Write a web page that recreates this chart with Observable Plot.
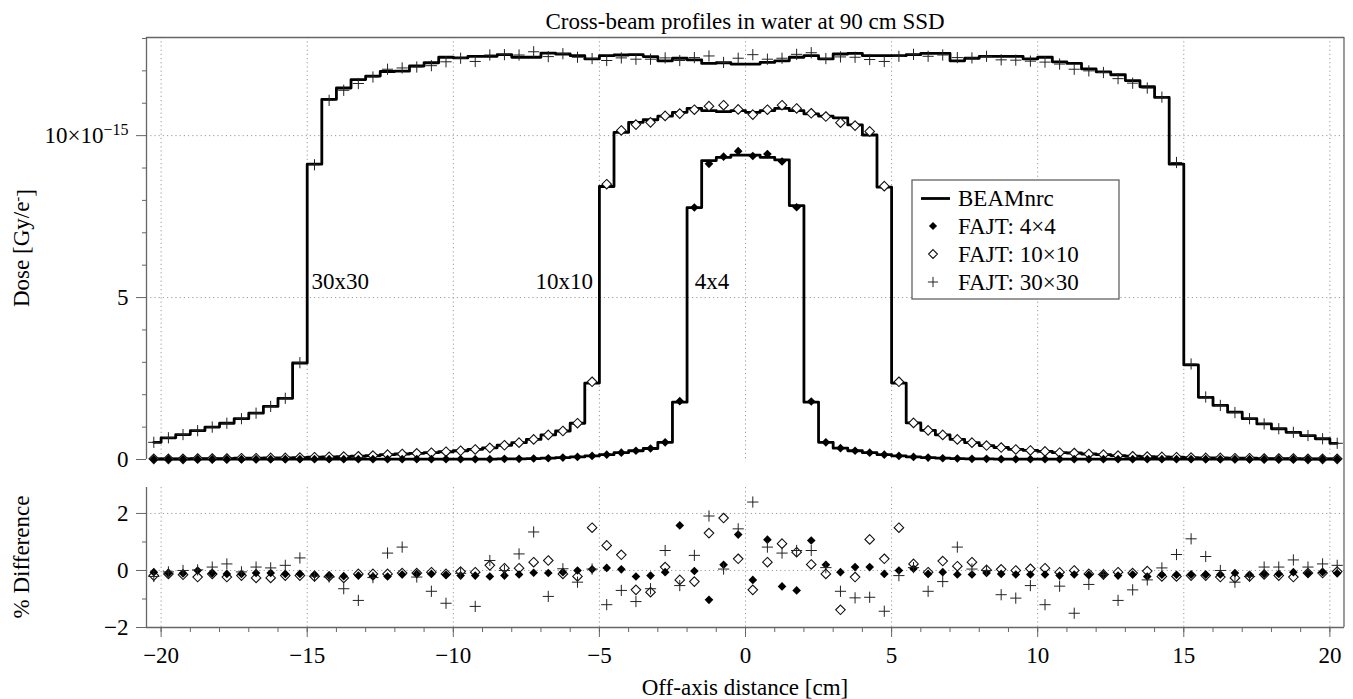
<!DOCTYPE html>
<html><head><meta charset="utf-8">
<script src="https://cdn.jsdelivr.net/npm/d3@7"></script>
<script src="https://cdn.jsdelivr.net/npm/@observablehq/plot@0.6"></script>
<style>
body{margin:0;background:#fff;}
#wrap{position:relative;width:1353px;height:699px;overflow:hidden;}
#top,#bot{position:absolute;left:0;}
#top{top:0;}
#bot{top:470px;}
#over{position:absolute;left:0;top:0;}
</style></head><body>
<div id="wrap"><div id="top"></div><div id="bot"></div><svg id="over" width="1353" height="699"></svg></div>
<script>
// ---------- data ----------
const binCenters = [-20.25,-19.75,-19.25,-18.75,-18.25,-17.75,-17.25,-16.75,-16.25,-15.75,-15.25,-14.75,-14.25,-13.75,-13.25,-12.75,-12.25,-11.75,-11.25,-10.75,-10.25,
  -9.75,-9.25,-8.75,-8.25,-7.75,-7.25,-6.75,-6.25,-5.75,-5.25,-4.75,-4.25,-3.75,-3.25,-2.75,-2.25,-1.75,-1.25,-0.75,-0.25,
  0.25,0.75,1.25,1.75,2.25,2.75,3.25,3.75,4.25,4.75,5.25,5.75,6.25,6.75,7.25,7.75,8.25,8.75,9.25,9.75,
  10.25,10.75,11.25,11.75,12.25,12.75,13.25,13.75,14.25,14.75,15.25,15.75,16.25,16.75,17.25,17.75,18.25,18.75,19.25,19.75,20.25];

const beam4 = [0.01,0.01,0.01,0.01,0.01,0.01,0.01,0.01,0.01,0.01,0.01,0.01,0.01,0.01,0.01,0.01,0.01,0.01,0.01,0.01,0.01,0.01,0.01,0.01,
  0.02,0.02,0.03,0.04,0.06,0.08,0.11,0.15,0.21,0.27,0.34,0.53,1.77,7.78,9.23,9.33,9.40,9.40,9.33,9.25,7.84,1.77,0.53,0.35,0.27,0.21,0.15,0.11,0.08,0.06,0.04,0.03,0.02,0.02,
  0.01,0.01,0.01,0.01,0.01,0.01,0.01,0.01,0.01,0.01,0.01,0.01,0.01,0.01,0.01,0.01,0.01,0.01,0.01,0.01,0.01,0.01,0.01,0.01];
const beam10 = [0.02,0.02,0.02,0.03,0.03,0.03,0.04,0.04,0.05,0.05,0.06,0.07,0.08,0.09,0.10,0.12,0.15,0.17,0.19,0.21,0.24,
  0.27,0.31,0.36,0.44,0.52,0.62,0.76,0.88,1.12,2.36,
  8.43,10.10,10.41,10.49,10.60,10.72,10.84,10.77,10.74,10.77,10.72,10.77,10.84,10.77,10.67,10.60,10.55,10.33,10.02,8.41,2.36,
  1.13,0.90,0.76,0.62,0.52,0.43,0.37,0.31,0.28,0.25,
  0.21,0.20,0.17,0.15,0.12,0.10,0.09,0.08,0.07,0.06,0.05,0.05,0.04,0.04,0.03,0.03,0.03,0.02,0.02,0.02];
const beam30 = [0.53,0.67,0.77,0.89,1.00,1.12,1.26,1.43,1.64,1.89,2.98,9.12,11.12,11.47,11.73,11.84,11.98,11.99,12.15,12.25,12.42,
  12.40,12.45,12.45,12.50,12.42,12.42,12.55,12.52,12.47,12.37,12.47,12.49,12.50,12.44,12.31,12.39,12.34,12.23,12.25,12.21,
  12.21,12.26,12.31,12.42,12.47,12.37,12.52,12.54,12.47,12.47,12.47,12.50,12.54,12.54,12.31,12.39,12.45,12.45,12.45,12.37,
  12.42,12.28,12.23,12.06,11.97,11.88,11.70,11.51,11.18,9.12,2.92,1.92,1.67,1.46,1.26,1.10,0.95,0.84,0.74,0.64,0.50];

const fajt4 = [0.01,0.01,0.01,0.01,0.01,0.01,0.01,0.01,0.01,0.01,0.01,0.01,0.01,0.01,0.01,0.01,0.01,0.01,0.01,0.01,0.01,0.01,0.01,0.01,
  0.02,0.02,0.03,0.04,0.06,0.08,0.11,0.15,0.21,0.27,0.34,0.53,1.80,7.78,9.13,9.35,9.52,9.37,9.43,9.20,7.79,1.79,0.53,0.35,0.27,0.21,0.15,0.11,0.08,0.06,0.04,0.03,0.02,0.02,
  0.01,0.01,0.01,0.01,0.01,0.01,0.01,0.01,0.01,0.01,0.01,0.01,0.01,0.01,0.01,0.01,0.01,0.01,0.01,0.01,0.01,0.01,0.01,0.01];
const fajt10 = [0.02,0.02,0.02,0.03,0.03,0.03,0.04,0.04,0.05,0.05,0.06,0.07,0.08,0.09,0.10,0.12,0.15,0.17,0.19,0.21,0.24,
  0.27,0.31,0.36,0.44,0.52,0.62,0.76,0.88,1.12,2.40,
  8.50,10.16,10.34,10.41,10.61,10.68,10.80,10.91,10.94,10.81,10.65,10.80,10.94,10.84,10.69,10.59,10.40,10.31,10.13,8.44,2.40,
  1.13,0.90,0.76,0.62,0.52,0.43,0.37,0.31,0.28,0.25,
  0.21,0.20,0.17,0.15,0.12,0.10,0.09,0.08,0.07,0.06,0.05,0.05,0.04,0.04,0.03,0.03,0.03,0.02,0.02,0.02];
const fajt30 = [0.53,0.67,0.77,0.89,1.00,1.12,1.26,1.43,1.64,1.89,2.99,9.10,11.09,11.40,11.61,11.81,12.05,12.09,12.12,12.16,12.28,
  12.39,12.29,12.49,12.50,12.49,12.59,12.44,12.53,12.42,12.38,
  12.32,12.40,12.36,12.36,12.40,12.32,12.41,12.46,12.26,12.39,
  12.50,12.36,12.39,12.51,12.56,12.38,12.43,12.42,12.35,12.29,12.45,
  12.51,12.45,12.49,12.41,12.40,12.45,12.34,12.33,12.30,12.27,
  12.21,12.05,12.00,11.95,11.76,11.62,11.47,11.19,9.17,2.95,1.93,1.67,1.45,1.26,1.10,0.95,0.84,0.74,0.64,0.50];

const diff4 = [-0.06,-0.10,-0.10,0.00,-0.10,-0.12,-0.12,-0.09,-0.09,-0.12,-0.12,-0.14,-0.18,-0.20,-0.18,-0.21,-0.21,-0.14,-0.12,-0.12,-0.15,
  -0.18,-0.18,-0.21,-0.18,-0.14,-0.08,-0.09,-0.06,0.00,0.04,
  0.09,0.04,-0.21,-0.18,-0.06,1.58,-0.02,-1.03,0.20,1.26,-0.33,1.08,-0.56,-0.70,1.05,0.20,-0.06,0.12,0.12,-0.12,0.00,
  0.06,-0.12,-0.06,-0.14,-0.14,-0.09,-0.12,-0.14,-0.14,-0.14,
  -0.18,-0.14,-0.15,-0.14,-0.18,-0.14,-0.21,-0.15,-0.15,-0.15,-0.15,-0.14,-0.09,-0.15,-0.12,-0.12,-0.06,-0.10,-0.06,-0.10];
const diff10 = [-0.18,-0.12,-0.15,-0.23,-0.12,-0.23,-0.18,-0.26,-0.26,-0.18,-0.18,-0.21,-0.21,-0.26,-0.12,-0.12,-0.12,-0.09,-0.09,-0.06,-0.12,
  -0.04,-0.06,0.18,0.08,0.08,0.29,0.35,-0.12,-0.21,1.50,
  0.88,0.55,-0.68,-0.76,0.12,-0.33,-0.39,1.31,1.84,0.41,-0.68,0.29,0.94,0.64,0.21,-0.12,-1.38,-0.23,1.09,0.41,1.50,
  0.23,-0.06,0.33,0.15,0.29,0.02,0.04,0.00,0.06,0.08,
  -0.06,0.00,-0.12,-0.14,-0.06,-0.09,-0.02,-0.21,-0.21,-0.18,-0.18,-0.23,-0.26,-0.21,-0.14,-0.18,-0.23,-0.09,-0.09,-0.04];
const diff30 = [-0.21,-0.05,0.00,0.02,0.12,0.23,-0.05,0.12,0.09,0.18,0.44,-0.20,-0.23,-0.64,-1.05,-0.25,0.61,0.82,-0.23,-0.73,-1.15,
  -0.10,-1.26,0.35,0.00,0.58,1.35,-0.91,0.06,-0.41,0.05,
  -1.20,-0.70,-1.09,-0.64,0.70,-0.53,0.53,1.91,0.05,1.46,2.40,0.82,0.61,0.70,0.70,0.10,-0.73,-0.96,-0.94,-1.43,-0.18,
  0.10,-0.73,-0.39,0.82,0.05,0.00,-0.85,-0.97,-0.53,-1.20,
  -0.55,-1.50,-0.49,-0.14,-1.05,-0.68,-0.33,0.09,0.56,1.11,0.49,0.00,-0.41,-0.21,0.12,0.12,0.37,0.12,0.23,0.18];

const xTicksMajor = [-20,-15,-10,-5,0,5,10,15,20];
const xTicksMinor = [-20,-19,-18,-17,-16,-15,-14,-13,-12,-11,-10,-9,-8,-7,-6,-5,-4,-3,-2,-1,0,1,2,3,4,5,6,7,8,9,10,11,12,13,14,15,16,17,18,19,20];
const doseTicks = [0,5,10];
const doseMinor = [1,2,3,4,6,7,8,9,11,12,13];
const diffTicks = [-2,0,2];
const diffMinor = [-1,1];
const fieldLabels = ["30x30","10x10","4x4"];
const fieldLabelX = [-13.87,-6.2,-1.15];
const fieldLabelY = [5.5,5.5,5.5];
const legendLabels = ["BEAMnrc","FAJT: 4×4","FAJT: 10×10","FAJT: 30×30"];
const titleText = "Cross-beam profiles in water at 90 cm SSD";
const xLabel = "Off-axis distance [cm]";

// ---------- tables ----------
const rows = binCenters.map((x,i)=>({x, f4:fajt4[i], f10:fajt10[i], f30:fajt30[i], d4:diff4[i], d10:diff10[i], d30:diff30[i]}));
const lineRows = [];
[["4x4",beam4],["10x10",beam10],["30x30",beam30]].forEach(([k,arr]) => binCenters.forEach((x,i)=>lineRows.push({x, y:arr[i], field:k})));
const annot = fieldLabels.map((t,i)=>({text:t, x:fieldLabelX[i], y:fieldLabelY[i]}));

const FONT = "'Liberation Serif','Times New Roman',Times,serif";
const fmt = d => d < 0 ? "\u2212" + Math.abs(d) : String(d);
const grid = {stroke:"#9a9a9a", strokeOpacity:1, strokeWidth:1, strokeDasharray:"1.2,3"};
const AX = "#666";
const style = {fontFamily:FONT, fontSize:"23px", background:"transparent", color:"#000", overflow:"visible"};
const X = {domain:[-20.5,20.5], axis:null};

function symbols(yKey){
  return [
    Plot.dot(rows,{x:"x", y:yKey[1], symbol:"diamond2", r:4.3, fill:"white", stroke:"#111", strokeWidth:1.1}),
    Plot.dot(rows,{x:"x", y:yKey[0], symbol:"diamond2", r:3.9, fill:"#000", stroke:"none"}),
    Plot.dot(rows,{x:"x", y:yKey[2], symbol:"plus", r:3.7, stroke:"#222", strokeWidth:1})
  ];
}

const topPlot = Plot.plot({
  width:1353, height:470, marginTop:37, marginBottom:11, marginLeft:146, marginRight:9,
  style, x:X, y:{domain:[0,13.03]},
  marks:[
    Plot.gridX(xTicksMajor, grid),
    Plot.gridY([5,10], grid),
    Plot.ruleY([13.03],{stroke:AX, strokeWidth:1.3}),
    Plot.ruleX([-20.5],{stroke:AX, strokeWidth:1.3}),
    Plot.axisY({ticks:doseTicks, tickSize:10, tickPadding:8, tickFormat:d => d===10 ? "10×10" : fmt(d), label:null, stroke:AX}),
    Plot.axisY({ticks:doseMinor, tickSize:4, tickFormat:()=>"", label:null, stroke:AX}),
    Plot.line(lineRows,{x:"x", y:"y", z:"field", curve:"step", stroke:"#000", strokeWidth:2.8}),
    ...symbols(["f4","f10","f30"]),
    Plot.text(annot,{x:"x", y:"y", text:"text", fontSize:23, fill:"#000"})
  ]
});
document.getElementById("top").appendChild(topPlot);

const botPlot = Plot.plot({
  width:1353, height:229, marginTop:17, marginBottom:72, marginLeft:146, marginRight:9,
  style, x:{domain:[-20.5,20.5]}, y:{domain:[-2,2.91]},
  marks:[
    Plot.gridX(xTicksMajor, grid),
    Plot.gridY([0,2], grid),
    Plot.ruleX([-20.5],{stroke:AX, strokeWidth:1.3}),
    Plot.ruleY([-2],{stroke:AX, strokeWidth:1.3}),
    Plot.axisY({ticks:diffTicks, tickSize:10, tickPadding:8, tickFormat:fmt, label:null, stroke:AX}),
    Plot.axisY({ticks:diffMinor, tickSize:4, tickFormat:()=>"", label:null, stroke:AX}),
    Plot.axisX({ticks:xTicksMajor, tickSize:10, tickPadding:9, tickFormat:fmt, label:null, stroke:AX}),
    Plot.axisX({ticks:xTicksMinor, tickSize:5, tickFormat:()=>"", label:null, stroke:AX}),
    ...symbols(["d4","d10","d30"])
  ]
});
document.getElementById("bot").appendChild(botPlot);

// superscript for the 10×10^-15 tick
const NS = "http://www.w3.org/2000/svg";
topPlot.querySelectorAll("text").forEach(t => {
  if (t.textContent === "10×10") {
    const ts = document.createElementNS(NS,"tspan");
    ts.setAttribute("dy","-0.5em"); ts.setAttribute("font-size","16px");
    ts.textContent = "\u221215";
    t.appendChild(ts);
  }
});

// ---------- overlay: title, axis labels, frame, legend ----------
const over = d3.select("#over").style("font-family",FONT).style("font-size","23px");
over.append("line").attr("x1",1344).attr("x2",1344).attr("y1",37).attr("y2",627).attr("stroke",AX).attr("stroke-width",1.3);
over.append("text").attr("x",745).attr("y",29).attr("text-anchor","middle").text(titleText);
over.append("text").attr("x",745).attr("y",695).attr("text-anchor","middle").text(xLabel);
const yl = over.append("text").attr("transform","translate(29,248) rotate(-90)").attr("text-anchor","middle");
yl.append("tspan").text("Dose [Gy/e");
yl.append("tspan").attr("dy","-0.45em").attr("font-size","15px").text("-");
yl.append("tspan").attr("dy","0.45em").text("]");
over.append("text").attr("transform","translate(29,557) rotate(-90)").attr("text-anchor","middle").text("% Difference");

const lg = over.append("g");
lg.append("rect").attr("x",912).attr("y",180).attr("width",207).attr("height",119).attr("fill","#fff").attr("stroke","#555").attr("stroke-width",1.2);
lg.append("line").attr("x1",921).attr("x2",950).attr("y1",198.5).attr("y2",198.5).attr("stroke","#000").attr("stroke-width",2.8);
lg.append("path").attr("transform","translate(933,226)").attr("d",d3.symbol(d3.symbolDiamond2,42)()).attr("fill","#000");
lg.append("path").attr("transform","translate(933,254)").attr("d",d3.symbol(d3.symbolDiamond2,50)()).attr("fill","#fff").attr("stroke","#111").attr("stroke-width",1.1);
lg.append("path").attr("transform","translate(933,282)").attr("d",d3.symbol(d3.symbolPlus,36)()).attr("fill","none").attr("stroke","#222").attr("stroke-width",1);
const lgY = [206,233.5,261.5,289.5];
legendLabels.forEach((t,i)=> lg.append("text").attr("x",958).attr("y",lgY[i]).text(t));
</script>
</body></html>
